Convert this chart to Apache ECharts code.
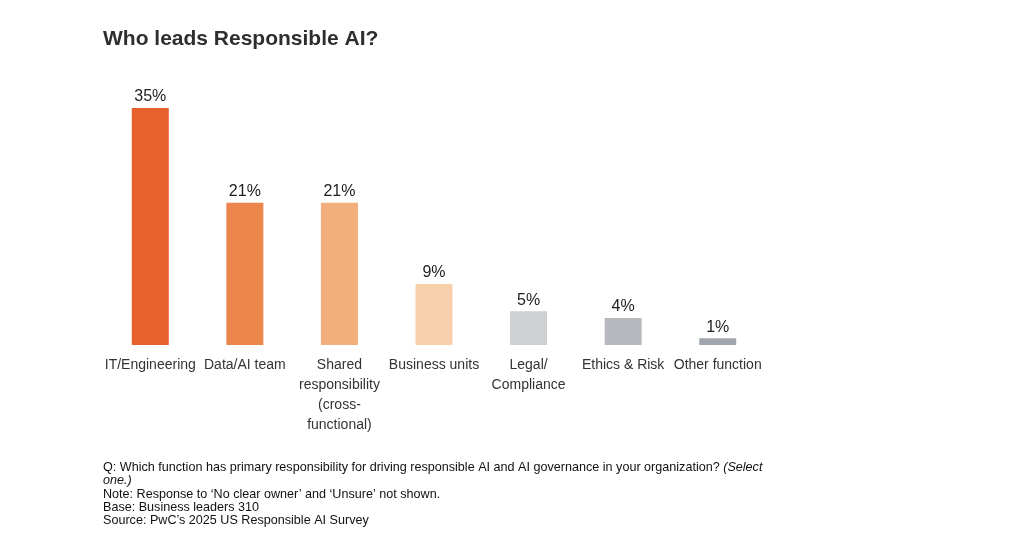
<!DOCTYPE html>
<html><head><meta charset="utf-8">
<script src="https://cdn.jsdelivr.net/npm/echarts@6/dist/echarts.min.js"></script>
<style>html,body{margin:0;padding:0;background:#fff}#c{width:1024px;height:549px}</style>
</head><body><div id="c"></div>
<script>
const categories = ['IT/Engineering','Data/AI team','Shared\nresponsibility\n(cross-\nfunctional)','Business units','Legal/\nCompliance','Ethics & Risk','Other function'];
const values = [35,21,21,9,5,4,1];
const colors = ['#E8602C','#EC864C','#F2AE7B','#F7CFAB','#CDD1D4','#B5B9BE','#A1A5AD'];
const titleText = 'Who leads Responsible AI?';
const footLines = [
  'Q: Which function has primary responsibility for driving responsible AI and AI governance in your organization? {i|(Select}',
  '{i|one.)}',
  'Note: Response to \u2018No clear owner\u2019 and \u2018Unsure\u2019 not shown.',
  'Base: Business leaders 310',
  'Source: PwC\u2019s 2025 US Responsible AI Survey'
];
const font = '"Liberation Sans", Arial, Helvetica, sans-serif';
const chart = echarts.init(document.getElementById('c'));
chart.setOption({
  animation:false,
  title:{text:titleText,left:98,top:24,textStyle:{fontFamily:font,fontSize:21,fontWeight:'bold',color:'#2e2e2e'}},
  grid:{left:103,right:1024-765,top:108,bottom:204,containLabel:false},
  xAxis:{type:'category',data:categories,axisLine:{show:false},axisTick:{show:false},
    axisLabel:{interval:0,margin:10,fontFamily:font,fontSize:14,color:'#333',lineHeight:20}},
  yAxis:{type:'value',min:0,max:35,show:false,splitLine:{show:false}},
  series:[{type:'bar',barWidth:37,
    data:values.map((v,i)=>({value:v,itemStyle:{color:colors[i]}})),
    label:{show:true,position:'top',distance:3,formatter:'{c}%',fontFamily:font,fontSize:16,color:'#1e1e1e'}}],
  graphic:[{type:'text',left:103,top:461,style:{text:footLines.join('\n'),fontFamily:font,fontSize:12.6,lineHeight:13.3,fill:'#111',
    rich:{i:{fontStyle:'italic',fontFamily:font,fontSize:12.6,lineHeight:13.3,fill:'#111'}}}}]
});
</script></body></html>
